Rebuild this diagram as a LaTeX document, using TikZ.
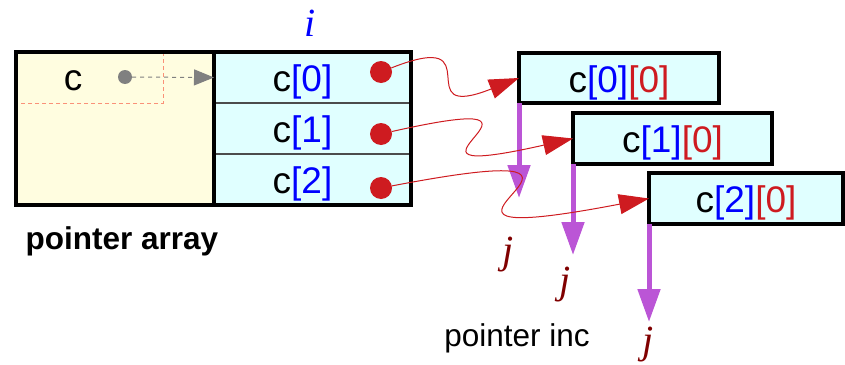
\documentclass[tikz,border=0pt]{standalone}
\usepackage{fontspec}
\setmainfont{Liberation Sans}
\newfontfamily\serifface{Liberation Serif}
\usetikzlibrary{arrows.meta}

\definecolor{cellcyan}{RGB}{224,255,255}
\definecolor{ptryellow}{RGB}{255,253,224}
\definecolor{dotred}{RGB}{206,27,32}
\definecolor{incpurple}{RGB}{187,85,214}
\definecolor{jred}{RGB}{128,0,0}
\definecolor{guidered}{RGB}{250,145,120}

\tikzset{
  bigfont/.style={font=\fontsize{37}{40}\selectfont},
  cellbox/.style={draw=black!70, line width=1.5, fill=cellcyan, minimum width=197,
    minimum height=51, inner sep=0, outer sep=0, bigfont, text height=34, text depth=6},
  elembox/.style={draw=black, line width=3.5, fill=cellcyan, minimum height=50,
    inner sep=0, outer sep=0, bigfont, text height=34, text depth=6},
  reddot/.style={circle, fill=dotred, minimum size=22, inner sep=0},
  ptrcurve/.style={draw=dotred, line width=1, -{Triangle[length=30,width=20]}},
  incarrow/.style={draw=incpurple, line width=5, -{Triangle[length=33,width=22]}},
  idxlabel/.style={font=\serifface\itshape\fontsize{40}{40}\selectfont},
  caption/.style={font=\fontsize{31.5}{33}\selectfont}
}

\begin{document}
\begin{tikzpicture}[x=1pt,y=-1pt]
  \useasboundingbox (0,0) rectangle (845,364);

  % pointer array
  \node[fill=ptryellow, minimum width=198, minimum height=152, inner sep=0, outer sep=0] (ptr) at (115,128) {};
  \draw[guidered, line width=1, dash pattern=on 4pt off 3pt] (163,52) -- (163,103) -- (16,103);
  \node[bigfont] (cname) at (73,81) {c};
  \node[circle, fill=gray, minimum size=14, inner sep=0] (cdot) at (125,77) {};

  \node[cellbox] (p0) at (312.5,77.5) {c\textcolor{blue}{[0]}\kern20pt};
  \node[cellbox] (p1) at (312.5,128.5) {c\textcolor{blue}{[1]}\kern20pt};
  \node[cellbox] (p2) at (312.5,179.5) {c\textcolor{blue}{[2]}\kern20pt};
  \draw[line width=3.5] (ptr.north west) rectangle (p2.south east);
  \draw[line width=3.5] (ptr.north east) -- (ptr.south east);

  \draw[gray, line width=1, dash pattern=on 4pt off 4pt, -{Triangle[length=20,width=16]}] (cdot) -- (p0.west);

  \node[reddot] (d0) at (381,72) {};
  \node[reddot] (d1) at (381,134) {};
  \node[reddot] (d2) at (381,188) {};

  \node[idxlabel, text=blue] (ilabel) at (310,23) {i};
  \node[font=\bfseries\fontsize{31.5}{33}\selectfont] (arrcap) at (122,241) {pointer array};

  % elements
  \node[elembox, minimum width=200] (b0) at (619,78) {c\textcolor{blue}{[0]}\textcolor{dotred}{[0]}};
  \node[elembox, minimum width=199, minimum height=51] (b1) at (672.5,138.5) {c\textcolor{blue}{[1]}\textcolor{dotred}{[0]}};
  \node[elembox, minimum width=194, minimum height=51] (b2) at (746,198.5) {c\textcolor{blue}{[2]}\textcolor{dotred}{[0]}};

  % pointer inc
  \path (b0.south west) ++(0,95) coordinate (tip0);
  \path (b1.south west) ++(0,91) coordinate (tip1);
  \path (b2.south west) ++(0,98) coordinate (tip2);
  \draw[incarrow] (b0.south west) -- (tip0);
  \draw[incarrow] (b1.south west) -- (tip1);
  \draw[incarrow] (b2.south west) -- (tip2);

  \node[idxlabel, text=jred] (j0) at (508,255) {j};
  \node[idxlabel, text=jred] (j1) at (565,285) {j};
  \node[idxlabel, text=jred] (j2) at (648,345) {j};
  \node[caption] (inccap) at (517,338) {pointer inc};

  \draw[ptrcurve] (d0) .. controls +(114,-45) and +(-114,45) .. (b0.west);
  \draw[ptrcurve] (d1) .. controls +(221,-50) and +(-221,50) .. (b1.west);
  \draw[ptrcurve] (d2) .. controls +(313,-60) and +(-313,60) .. (b2.west);
\end{tikzpicture}
\end{document}
